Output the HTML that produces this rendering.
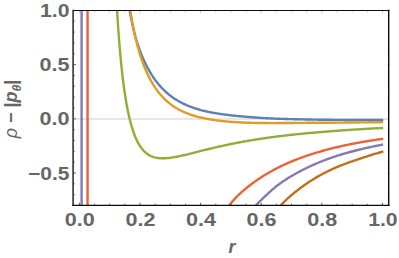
<!DOCTYPE html>
<html lang="en"><head><meta charset="utf-8"><title>rho - |p_theta| vs r</title>
<style>html,body{margin:0;padding:0;background:#fff;font-family:"Liberation Sans",sans-serif;}svg{display:block}</style></head><body>
<svg width="399" height="258" viewBox="0 0 399 258">
<rect width="399" height="258" fill="#fff"/>
<defs><clipPath id="c"><rect x="73.2" y="10.3" width="315.4" height="195.1"/></clipPath></defs>
<line x1="73.2" y1="119" x2="388.6" y2="119" stroke="#cfcfcf" stroke-width="1"/>
<g clip-path="url(#c)" fill="none" stroke-width="2.4" stroke-linejoin="round">
<path d="M128.09 1.76 L128.26 2.75 L128.43 3.73 L128.6 4.72 L128.78 5.7 L128.95 6.68 L129.13 7.67 L129.31 8.65 L129.49 9.64 L129.67 10.62 L129.85 11.6 L130.04 12.59 L130.22 13.57 L130.41 14.55 L130.59 15.54 L130.78 16.52 L130.98 17.5 L131.17 18.48 L131.36 19.46 L131.56 20.44 L131.76 21.43 L131.97 22.41 L132.17 23.38 L132.38 24.36 L132.6 25.34 L132.81 26.32 L133.03 27.3 L133.26 28.27 L133.48 29.25 L133.72 30.22 L133.95 31.19 L134.19 32.17 L134.44 33.14 L134.69 34.11 L134.95 35.08 L135.21 36.04 L135.48 37.01 L135.75 37.97 L136.03 38.93 L136.31 39.89 L136.6 40.85 L136.9 41.81 L137.2 42.77 L137.51 43.72 L137.82 44.67 L138.14 45.62 L138.47 46.57 L138.8 47.51 L139.14 48.46 L139.48 49.4 L139.83 50.34 L140.18 51.28 L140.54 52.21 L140.9 53.15 L141.28 54.08 L141.65 55 L142.03 55.93 L142.42 56.85 L142.82 57.78 L143.22 58.69 L143.62 59.61 L144.03 60.52 L144.45 61.43 L144.88 62.34 L145.31 63.24 L145.75 64.14 L146.19 65.04 L146.64 65.93 L147.1 66.82 L147.57 67.71 L148.04 68.59 L148.52 69.46 L149.01 70.34 L149.51 71.21 L150.01 72.07 L150.52 72.93 L151.04 73.79 L151.57 74.64 L152.1 75.48 L152.65 76.32 L153.2 77.15 L153.76 77.98 L154.33 78.8 L154.91 79.62 L155.5 80.42 L156.1 81.23 L156.71 82.02 L157.33 82.81 L157.96 83.59 L158.59 84.36 L159.24 85.12 L159.89 85.88 L160.56 86.63 L161.24 87.37 L161.92 88.1 L162.62 88.82 L163.32 89.53 L164.04 90.23 L164.76 90.92 L165.49 91.61 L166.24 92.28 L166.99 92.94 L167.75 93.59 L168.52 94.24 L169.3 94.87 L170.09 95.49 L170.89 96.1 L171.7 96.7 L172.51 97.28 L173.34 97.86 L174.17 98.42 L175.01 98.98 L175.85 99.52 L176.71 100.05 L177.57 100.57 L178.44 101.07 L179.31 101.57 L180.2 102.05 L181.08 102.52 L181.98 102.99 L182.88 103.43 L183.79 103.87 L184.7 104.3 L185.61 104.71 L186.53 105.12 L187.46 105.51 L188.39 105.9 L189.32 106.27 L190.26 106.64 L191.2 106.99 L192.15 107.34 L193.09 107.67 L194.04 108 L195 108.32 L195.95 108.62 L196.91 108.93 L197.88 109.22 L198.84 109.5 L199.81 109.78 L200.77 110.04 L201.74 110.3 L202.72 110.55 L203.69 110.8 L204.67 111.03 L205.64 111.26 L206.62 111.48 L207.6 111.7 L208.59 111.9 L209.57 112.1 L210.55 112.3 L211.54 112.49 L212.52 112.67 L213.51 112.85 L214.5 113.02 L215.49 113.19 L216.47 113.35 L217.46 113.51 L218.45 113.67 L219.44 113.82 L220.44 113.97 L221.43 114.11 L222.42 114.25 L223.41 114.39 L224.4 114.52 L225.4 114.66 L226.39 114.78 L227.38 114.91 L228.38 115.03 L229.37 115.15 L230.36 115.27 L231.36 115.38 L232.35 115.49 L233.35 115.6 L234.34 115.71 L235.34 115.81 L236.33 115.91 L237.33 116.01 L238.33 116.11 L239.32 116.2 L240.32 116.29 L241.32 116.39 L242.31 116.47 L243.31 116.56 L244.31 116.65 L245.3 116.73 L246.3 116.81 L247.3 116.89 L248.29 116.97 L249.29 117.05 L250.29 117.13 L251.29 117.21 L252.28 117.28 L253.28 117.36 L254.28 117.43 L255.28 117.5 L256.28 117.57 L257.27 117.64 L258.27 117.71 L259.27 117.78 L260.27 117.84 L261.27 117.91 L262.27 117.97 L263.26 118.03 L264.26 118.09 L265.26 118.15 L266.26 118.21 L267.26 118.26 L268.26 118.31 L269.26 118.37 L270.26 118.42 L271.26 118.46 L272.25 118.51 L273.25 118.55 L274.25 118.6 L275.25 118.64 L276.25 118.68 L277.25 118.72 L278.25 118.75 L279.25 118.79 L280.25 118.82 L281.25 118.86 L282.25 118.89 L283.25 118.92 L284.25 118.95 L285.25 118.98 L286.25 119.01 L287.25 119.04 L288.25 119.07 L289.25 119.09 L290.25 119.12 L291.25 119.14 L292.25 119.17 L293.25 119.19 L294.25 119.22 L295.25 119.24 L296.25 119.26 L297.25 119.29 L298.25 119.31 L299.25 119.33 L300.25 119.35 L301.25 119.37 L302.25 119.39 L303.25 119.41 L304.25 119.43 L305.25 119.45 L306.25 119.47 L307.25 119.49 L308.25 119.51 L309.25 119.53 L310.25 119.55 L311.25 119.57 L312.25 119.58 L313.25 119.6 L314.25 119.62 L315.25 119.63 L316.25 119.65 L317.25 119.66 L318.25 119.68 L319.25 119.69 L320.25 119.71 L321.25 119.72 L322.25 119.73 L323.25 119.75 L324.25 119.76 L325.25 119.77 L326.25 119.78 L327.25 119.79 L328.25 119.8 L329.25 119.81 L330.25 119.82 L331.25 119.83 L332.25 119.84 L333.25 119.85 L334.25 119.86 L335.25 119.86 L336.25 119.87 L337.25 119.88 L338.25 119.89 L339.25 119.89 L340.25 119.9 L341.25 119.91 L342.25 119.91 L343.25 119.92 L344.25 119.93 L345.25 119.93 L346.25 119.94 L347.25 119.94 L348.25 119.95 L349.25 119.95 L350.25 119.96 L351.25 119.96 L352.25 119.96 L353.25 119.97 L354.25 119.97 L355.25 119.98 L356.25 119.98 L357.25 119.98 L358.25 119.99 L359.25 119.99 L360.25 119.99 L361.25 119.99 L362.25 120 L363.25 120 L364.25 120 L365.25 120 L366.25 120 L367.25 120.01 L368.25 120.01 L369.25 120.01 L370.25 120.01 L371.25 120.01 L372.25 120.01 L373.25 120.01 L374.25 120.02 L375.25 120.02 L376.25 120.02 L377.25 120.02 L378.25 120.02 L379.25 120.02 L380.25 120.02 L381.25 120.02 L382.25 120.02 L383.25 120.02" stroke="#5E81B5"/>
<path d="M128.8 0.22 L128.94 1.21 L129.07 2.2 L129.21 3.19 L129.35 4.18 L129.5 5.17 L129.64 6.16 L129.79 7.15 L129.93 8.14 L130.08 9.13 L130.24 10.11 L130.39 11.1 L130.55 12.09 L130.71 13.08 L130.87 14.06 L131.03 15.05 L131.19 16.04 L131.36 17.02 L131.53 18.01 L131.7 18.99 L131.88 19.98 L132.05 20.96 L132.23 21.95 L132.41 22.93 L132.6 23.91 L132.78 24.9 L132.97 25.88 L133.16 26.86 L133.36 27.84 L133.56 28.82 L133.76 29.8 L133.96 30.78 L134.17 31.76 L134.38 32.74 L134.59 33.71 L134.8 34.69 L135.02 35.66 L135.24 36.64 L135.47 37.61 L135.7 38.59 L135.93 39.56 L136.17 40.53 L136.41 41.5 L136.65 42.47 L136.9 43.44 L137.15 44.41 L137.4 45.38 L137.66 46.34 L137.92 47.31 L138.19 48.27 L138.46 49.23 L138.74 50.2 L139.02 51.16 L139.3 52.11 L139.59 53.07 L139.89 54.03 L140.18 54.98 L140.49 55.93 L140.8 56.89 L141.11 57.83 L141.43 58.78 L141.75 59.73 L142.08 60.67 L142.42 61.61 L142.76 62.55 L143.11 63.49 L143.46 64.43 L143.82 65.36 L144.18 66.29 L144.55 67.22 L144.93 68.15 L145.32 69.07 L145.71 69.99 L146.1 70.91 L146.51 71.82 L146.92 72.73 L147.34 73.64 L147.76 74.55 L148.2 75.45 L148.64 76.35 L149.09 77.24 L149.55 78.13 L150.01 79.01 L150.48 79.9 L150.97 80.77 L151.46 81.64 L151.96 82.51 L152.46 83.37 L152.98 84.23 L153.51 85.08 L154.04 85.92 L154.59 86.76 L155.14 87.59 L155.71 88.42 L156.28 89.24 L156.87 90.05 L157.46 90.86 L158.07 91.65 L158.68 92.44 L159.31 93.22 L159.94 94 L160.59 94.76 L161.25 95.51 L161.92 96.26 L162.6 96.99 L163.29 97.72 L163.99 98.43 L164.7 99.14 L165.43 99.83 L166.16 100.51 L166.9 101.18 L167.66 101.84 L168.42 102.49 L169.2 103.12 L169.99 103.75 L170.78 104.36 L171.59 104.95 L172.4 105.54 L173.23 106.11 L174.06 106.67 L174.9 107.21 L175.75 107.74 L176.61 108.26 L177.48 108.76 L178.35 109.26 L179.23 109.74 L180.12 110.2 L181.01 110.65 L181.91 111.09 L182.82 111.52 L183.73 111.94 L184.65 112.34 L185.58 112.73 L186.5 113.11 L187.44 113.48 L188.37 113.83 L189.31 114.18 L190.26 114.51 L191.21 114.83 L192.16 115.14 L193.12 115.45 L194.08 115.74 L195.04 116.02 L196 116.29 L196.97 116.56 L197.94 116.81 L198.91 117.06 L199.88 117.3 L200.86 117.53 L201.83 117.75 L202.81 117.97 L203.79 118.18 L204.77 118.38 L205.76 118.57 L206.74 118.76 L207.72 118.95 L208.71 119.12 L209.7 119.29 L210.69 119.46 L211.67 119.62 L212.66 119.78 L213.65 119.93 L214.64 120.08 L215.64 120.22 L216.63 120.36 L217.62 120.49 L218.61 120.62 L219.61 120.75 L220.6 120.87 L221.6 120.98 L222.59 121.09 L223.59 121.2 L224.59 121.3 L225.58 121.4 L226.58 121.49 L227.58 121.58 L228.57 121.67 L229.57 121.75 L230.57 121.82 L231.57 121.9 L232.57 121.97 L233.57 122.04 L234.57 122.1 L235.57 122.17 L236.57 122.22 L237.56 122.28 L238.56 122.33 L239.56 122.39 L240.56 122.43 L241.56 122.48 L242.56 122.53 L243.56 122.57 L244.56 122.61 L245.56 122.65 L246.56 122.68 L247.56 122.72 L248.56 122.75 L249.57 122.78 L250.57 122.81 L251.57 122.83 L252.57 122.86 L253.57 122.88 L254.57 122.9 L255.57 122.93 L256.57 122.94 L257.57 122.96 L258.57 122.98 L259.57 122.99 L260.57 123.01 L261.57 123.02 L262.57 123.03 L263.57 123.04 L264.57 123.05 L265.57 123.06 L266.57 123.07 L267.57 123.07 L268.57 123.08 L269.57 123.08 L270.57 123.08 L271.57 123.08 L272.57 123.08 L273.57 123.08 L274.57 123.08 L275.57 123.08 L276.57 123.07 L277.57 123.07 L278.57 123.06 L279.57 123.06 L280.58 123.05 L281.58 123.04 L282.58 123.04 L283.58 123.03 L284.58 123.02 L285.58 123.01 L286.58 123 L287.58 122.99 L288.58 122.98 L289.58 122.97 L290.58 122.96 L291.58 122.95 L292.58 122.94 L293.58 122.93 L294.58 122.92 L295.58 122.91 L296.58 122.9 L297.58 122.89 L298.58 122.88 L299.58 122.87 L300.58 122.86 L301.58 122.85 L302.58 122.85 L303.58 122.84 L304.58 122.83 L305.58 122.83 L306.58 122.82 L307.58 122.82 L308.58 122.81 L309.58 122.81 L310.58 122.8 L311.58 122.8 L312.58 122.8 L313.58 122.79 L314.58 122.79 L315.58 122.78 L316.58 122.78 L317.58 122.78 L318.58 122.77 L319.58 122.77 L320.58 122.76 L321.58 122.76 L322.58 122.75 L323.58 122.75 L324.58 122.74 L325.58 122.74 L326.58 122.73 L327.58 122.73 L328.58 122.72 L329.58 122.71 L330.58 122.71 L331.58 122.7 L332.58 122.69 L333.58 122.68 L334.58 122.68 L335.58 122.67 L336.58 122.66 L337.58 122.65 L338.58 122.64 L339.58 122.63 L340.58 122.62 L341.58 122.61 L342.58 122.6 L343.58 122.59 L344.58 122.58 L345.58 122.57 L346.58 122.56 L347.58 122.55 L348.58 122.54 L349.58 122.53 L350.58 122.52 L351.58 122.51 L352.58 122.5 L353.58 122.49 L354.58 122.48 L355.58 122.47 L356.58 122.45 L357.58 122.44 L358.58 122.43 L359.58 122.42 L360.58 122.41 L361.58 122.4 L362.58 122.39 L363.58 122.38 L364.58 122.37 L365.58 122.35 L366.58 122.34 L367.58 122.33 L368.58 122.32 L369.58 122.31 L370.58 122.3 L371.58 122.29 L372.58 122.28 L373.57 122.27 L374.57 122.26 L375.57 122.24 L376.57 122.23 L377.57 122.22 L378.57 122.21 L379.57 122.2 L380.57 122.19 L381.57 122.18 L382.57 122.17 L383.07 122.16" stroke="#E19C24"/>
<path d="M115.6 -17.89 L115.65 -16.89 L115.7 -15.89 L115.74 -14.89 L115.79 -13.89 L115.84 -12.89 L115.89 -11.89 L115.94 -10.89 L115.99 -9.9 L116.04 -8.9 L116.09 -7.9 L116.14 -6.9 L116.2 -5.9 L116.25 -4.9 L116.3 -3.9 L116.35 -2.91 L116.41 -1.91 L116.46 -0.91 L116.51 0.09 L116.57 1.09 L116.62 2.09 L116.68 3.09 L116.73 4.08 L116.79 5.08 L116.85 6.08 L116.91 7.08 L116.96 8.08 L117.02 9.08 L117.08 10.07 L117.14 11.07 L117.2 12.07 L117.26 13.07 L117.32 14.07 L117.38 15.07 L117.44 16.06 L117.51 17.06 L117.57 18.06 L117.63 19.06 L117.7 20.06 L117.76 21.05 L117.82 22.05 L117.89 23.05 L117.96 24.05 L118.02 25.04 L118.09 26.04 L118.16 27.04 L118.23 28.04 L118.3 29.04 L118.37 30.03 L118.44 31.03 L118.51 32.03 L118.58 33.02 L118.65 34.02 L118.73 35.02 L118.8 36.02 L118.88 37.01 L118.95 38.01 L119.03 39.01 L119.1 40.01 L119.18 41 L119.26 42 L119.34 43 L119.42 43.99 L119.5 44.99 L119.58 45.99 L119.67 46.98 L119.75 47.98 L119.83 48.98 L119.92 49.97 L120 50.97 L120.09 51.96 L120.18 52.96 L120.27 53.96 L120.36 54.95 L120.45 55.95 L120.54 56.94 L120.63 57.94 L120.73 58.94 L120.82 59.93 L120.92 60.93 L121.02 61.92 L121.11 62.92 L121.21 63.91 L121.31 64.91 L121.42 65.9 L121.52 66.9 L121.62 67.89 L121.73 68.89 L121.83 69.88 L121.94 70.87 L122.05 71.87 L122.16 72.86 L122.28 73.86 L122.39 74.85 L122.5 75.84 L122.62 76.84 L122.74 77.83 L122.86 78.82 L122.98 79.81 L123.1 80.81 L123.23 81.8 L123.35 82.79 L123.48 83.78 L123.61 84.77 L123.74 85.77 L123.87 86.76 L124.01 87.75 L124.15 88.74 L124.29 89.73 L124.43 90.72 L124.57 91.71 L124.71 92.7 L124.86 93.69 L125.01 94.67 L125.16 95.66 L125.32 96.65 L125.48 97.64 L125.64 98.63 L125.8 99.61 L125.96 100.6 L126.13 101.59 L126.3 102.57 L126.47 103.56 L126.65 104.54 L126.83 105.52 L127.01 106.51 L127.2 107.49 L127.39 108.47 L127.58 109.45 L127.78 110.43 L127.98 111.41 L128.18 112.39 L128.39 113.37 L128.6 114.35 L128.82 115.32 L129.04 116.3 L129.26 117.27 L129.49 118.25 L129.73 119.22 L129.97 120.19 L130.22 121.16 L130.47 122.13 L130.72 123.09 L130.99 124.06 L131.26 125.02 L131.53 125.98 L131.81 126.94 L132.1 127.9 L132.4 128.85 L132.71 129.8 L133.02 130.75 L133.34 131.7 L133.67 132.64 L134.01 133.58 L134.36 134.52 L134.73 135.45 L135.1 136.38 L135.48 137.31 L135.88 138.22 L136.28 139.14 L136.71 140.04 L137.14 140.94 L137.59 141.84 L138.06 142.72 L138.54 143.6 L139.05 144.46 L139.57 145.31 L140.11 146.16 L140.67 146.98 L141.25 147.8 L141.85 148.59 L142.48 149.37 L143.13 150.13 L143.81 150.87 L144.51 151.58 L145.24 152.26 L146 152.91 L146.78 153.54 L147.59 154.12 L148.43 154.67 L149.29 155.19 L150.17 155.66 L151.07 156.09 L151.99 156.48 L152.93 156.83 L153.88 157.14 L154.84 157.41 L155.81 157.64 L156.8 157.83 L157.79 157.98 L158.78 158.11 L159.78 158.2 L160.77 158.26 L161.77 158.29 L162.78 158.3 L163.78 158.29 L164.78 158.26 L165.78 158.2 L166.78 158.13 L167.78 158.05 L168.77 157.95 L169.77 157.83 L170.76 157.7 L171.76 157.57 L172.75 157.42 L173.74 157.26 L174.72 157.09 L175.71 156.92 L176.7 156.73 L177.68 156.54 L178.66 156.34 L179.64 156.14 L180.62 155.93 L181.6 155.72 L182.58 155.5 L183.55 155.27 L184.53 155.05 L185.5 154.82 L186.47 154.58 L187.45 154.35 L188.42 154.11 L189.39 153.87 L190.36 153.62 L191.33 153.38 L192.3 153.14 L193.27 152.89 L194.24 152.65 L195.21 152.4 L196.18 152.15 L197.15 151.91 L198.12 151.66 L199.09 151.42 L200.06 151.17 L201.02 150.93 L201.99 150.68 L202.96 150.44 L203.93 150.2 L204.9 149.96 L205.87 149.72 L206.84 149.48 L207.82 149.24 L208.79 149.01 L209.76 148.77 L210.73 148.54 L211.7 148.31 L212.67 148.07 L213.65 147.85 L214.62 147.62 L215.59 147.39 L216.57 147.17 L217.54 146.94 L218.51 146.72 L219.49 146.5 L220.46 146.28 L221.44 146.07 L222.41 145.85 L223.39 145.64 L224.37 145.43 L225.34 145.22 L226.32 145.01 L227.3 144.8 L228.27 144.59 L229.25 144.39 L230.23 144.19 L231.21 143.99 L232.19 143.79 L233.17 143.59 L234.15 143.4 L235.13 143.2 L236.11 143.01 L237.09 142.82 L238.07 142.63 L239.05 142.45 L240.03 142.26 L241.02 142.08 L242 141.9 L242.98 141.72 L243.96 141.54 L244.95 141.37 L245.93 141.19 L246.92 141.02 L247.9 140.85 L248.88 140.68 L249.87 140.51 L250.85 140.35 L251.84 140.18 L252.83 140.02 L253.81 139.86 L254.8 139.7 L255.79 139.54 L256.77 139.38 L257.76 139.23 L258.75 139.08 L259.73 138.93 L260.72 138.78 L261.71 138.63 L262.7 138.48 L263.69 138.33 L264.68 138.19 L265.66 138.05 L266.65 137.9 L267.64 137.76 L268.63 137.63 L269.62 137.49 L270.61 137.35 L271.6 137.22 L272.59 137.09 L273.58 136.95 L274.57 136.82 L275.56 136.69 L276.56 136.57 L277.55 136.44 L278.54 136.31 L279.53 136.19 L280.52 136.07 L281.51 135.95 L282.51 135.83 L283.5 135.71 L284.49 135.59 L285.48 135.47 L286.48 135.36 L287.47 135.24 L288.46 135.13 L289.45 135.02 L290.45 134.91 L291.44 134.8 L292.43 134.69 L293.43 134.58 L294.42 134.48 L295.42 134.37 L296.41 134.27 L297.4 134.17 L298.4 134.07 L299.39 133.97 L300.39 133.87 L301.38 133.77 L302.38 133.68 L303.37 133.59 L304.37 133.49 L305.36 133.4 L306.36 133.31 L307.35 133.22 L308.35 133.13 L309.35 133.05 L310.34 132.96 L311.34 132.87 L312.33 132.79 L313.33 132.7 L314.32 132.62 L315.32 132.54 L316.32 132.45 L317.31 132.37 L318.31 132.28 L319.3 132.2 L320.3 132.12 L321.3 132.04 L322.29 131.95 L323.29 131.87 L324.29 131.79 L325.28 131.71 L326.28 131.63 L327.27 131.55 L328.27 131.46 L329.27 131.38 L330.26 131.3 L331.26 131.22 L332.26 131.15 L333.25 131.07 L334.25 130.99 L335.25 130.91 L336.24 130.84 L337.24 130.76 L338.24 130.69 L339.23 130.61 L340.23 130.54 L341.23 130.47 L342.22 130.4 L343.22 130.32 L344.22 130.25 L345.22 130.18 L346.21 130.11 L347.21 130.05 L348.21 129.98 L349.2 129.91 L350.2 129.84 L351.2 129.78 L352.2 129.71 L353.19 129.65 L354.19 129.58 L355.19 129.52 L356.19 129.46 L357.19 129.39 L358.18 129.33 L359.18 129.27 L360.18 129.21 L361.18 129.15 L362.17 129.09 L363.17 129.03 L364.17 128.97 L365.17 128.91 L366.17 128.85 L367.16 128.79 L368.16 128.73 L369.16 128.68 L370.16 128.62 L371.16 128.56 L372.16 128.51 L373.15 128.45 L374.15 128.4 L375.15 128.35 L376.15 128.29 L377.15 128.24 L378.15 128.19 L379.14 128.13 L380.14 128.08 L381.14 128.03 L382.14 127.98 L383.14 127.93" stroke="#8FB032"/>
<path d="M228.11 207.15 L228.68 206.34 L229.27 205.53 L229.86 204.72 L230.46 203.93 L231.07 203.14 L231.7 202.37 L232.33 201.6 L232.97 200.84 L233.62 200.09 L234.29 199.35 L234.96 198.61 L235.64 197.89 L236.33 197.17 L237.02 196.46 L237.72 195.76 L238.43 195.06 L239.15 194.38 L239.88 193.7 L240.6 193.03 L241.34 192.36 L242.08 191.71 L242.83 191.05 L243.58 190.41 L244.34 189.77 L245.1 189.13 L245.86 188.5 L246.63 187.88 L247.4 187.26 L248.18 186.65 L248.96 186.04 L249.74 185.43 L250.53 184.83 L251.32 184.23 L252.12 183.64 L252.91 183.05 L253.71 182.47 L254.52 181.89 L255.32 181.31 L256.14 180.74 L256.95 180.17 L257.77 179.61 L258.59 179.05 L259.41 178.49 L260.24 177.94 L261.07 177.4 L261.9 176.86 L262.74 176.32 L263.58 175.79 L264.43 175.26 L265.28 174.74 L266.13 174.23 L266.98 173.72 L267.84 173.21 L268.7 172.71 L269.56 172.22 L270.43 171.73 L271.3 171.24 L272.17 170.76 L273.05 170.28 L273.93 169.81 L274.81 169.34 L275.69 168.88 L276.58 168.43 L277.47 167.97 L278.36 167.52 L279.25 167.08 L280.14 166.64 L281.04 166.2 L281.94 165.77 L282.84 165.35 L283.75 164.93 L284.65 164.51 L285.56 164.1 L286.47 163.69 L287.39 163.28 L288.3 162.88 L289.22 162.49 L290.13 162.09 L291.05 161.71 L291.98 161.32 L292.9 160.94 L293.82 160.57 L294.75 160.2 L295.68 159.83 L296.61 159.46 L297.54 159.11 L298.47 158.75 L299.41 158.4 L300.35 158.05 L301.28 157.71 L302.22 157.37 L303.16 157.03 L304.1 156.7 L305.05 156.37 L305.99 156.04 L306.94 155.72 L307.88 155.4 L308.83 155.08 L309.78 154.77 L310.73 154.46 L311.68 154.16 L312.63 153.85 L313.58 153.55 L314.54 153.26 L315.49 152.96 L316.45 152.67 L317.4 152.38 L318.36 152.1 L319.32 151.82 L320.28 151.54 L321.24 151.26 L322.2 150.99 L323.16 150.72 L324.13 150.45 L325.09 150.19 L326.05 149.93 L327.02 149.67 L327.99 149.41 L328.95 149.16 L329.92 148.91 L330.89 148.66 L331.86 148.42 L332.82 148.17 L333.79 147.93 L334.77 147.7 L335.74 147.46 L336.71 147.23 L337.68 147 L338.65 146.77 L339.63 146.55 L340.6 146.33 L341.58 146.11 L342.55 145.89 L343.53 145.68 L344.51 145.47 L345.48 145.26 L346.46 145.05 L347.44 144.84 L348.42 144.64 L349.4 144.44 L350.38 144.25 L351.36 144.05 L352.34 143.86 L353.32 143.67 L354.3 143.48 L355.28 143.29 L356.27 143.11 L357.25 142.92 L358.23 142.74 L359.21 142.57 L360.2 142.39 L361.18 142.22 L362.17 142.04 L363.15 141.87 L364.14 141.71 L365.12 141.54 L366.11 141.37 L367.09 141.21 L368.08 141.05 L369.07 140.89 L370.06 140.73 L371.04 140.58 L372.03 140.42 L373.02 140.27 L374.01 140.12 L374.99 139.97 L375.98 139.82 L376.97 139.68 L377.96 139.53 L378.95 139.39 L379.94 139.25 L380.93 139.11 L381.92 138.97 L382.91 138.84 L383.16 138.8" stroke="#EB6235"/>
<path d="M254.67 206.69 L255.35 205.95 L256.02 205.23 L256.71 204.5 L257.4 203.78 L258.09 203.07 L258.79 202.36 L259.49 201.66 L260.2 200.95 L260.91 200.26 L261.62 199.56 L262.33 198.87 L263.05 198.18 L263.77 197.5 L264.49 196.81 L265.21 196.13 L265.94 195.45 L266.67 194.77 L267.39 194.1 L268.13 193.42 L268.86 192.75 L269.6 192.08 L270.34 191.42 L271.08 190.76 L271.83 190.1 L272.58 189.45 L273.34 188.81 L274.1 188.17 L274.86 187.53 L275.64 186.9 L276.41 186.28 L277.2 185.67 L277.98 185.06 L278.78 184.46 L279.58 183.87 L280.38 183.28 L281.19 182.7 L282.01 182.13 L282.83 181.57 L283.65 181.01 L284.48 180.45 L285.31 179.91 L286.15 179.37 L286.98 178.83 L287.83 178.3 L288.67 177.78 L289.52 177.26 L290.37 176.74 L291.23 176.23 L292.08 175.73 L292.94 175.22 L293.81 174.73 L294.67 174.24 L295.54 173.75 L296.41 173.26 L297.28 172.78 L298.15 172.31 L299.03 171.84 L299.91 171.37 L300.79 170.91 L301.67 170.45 L302.56 169.99 L303.44 169.54 L304.33 169.1 L305.22 168.65 L306.12 168.22 L307.01 167.78 L307.91 167.35 L308.81 166.93 L309.71 166.5 L310.62 166.08 L311.52 165.67 L312.43 165.26 L313.34 164.85 L314.25 164.45 L315.16 164.05 L316.08 163.66 L316.99 163.26 L317.91 162.88 L318.83 162.49 L319.75 162.11 L320.68 161.74 L321.6 161.36 L322.53 161 L323.46 160.63 L324.39 160.27 L325.32 159.92 L326.25 159.56 L327.19 159.22 L328.12 158.87 L329.06 158.53 L330 158.2 L330.94 157.87 L331.88 157.54 L332.83 157.22 L333.77 156.9 L334.72 156.58 L335.67 156.27 L336.62 155.97 L337.57 155.66 L338.52 155.36 L339.47 155.07 L340.43 154.77 L341.38 154.48 L342.34 154.2 L343.3 153.91 L344.25 153.63 L345.21 153.36 L346.17 153.08 L347.13 152.81 L348.09 152.54 L349.06 152.28 L350.02 152.01 L350.98 151.75 L351.95 151.49 L352.91 151.24 L353.88 150.99 L354.85 150.74 L355.81 150.49 L356.78 150.24 L357.75 150 L358.72 149.76 L359.69 149.53 L360.66 149.29 L361.63 149.06 L362.6 148.83 L363.58 148.6 L364.55 148.38 L365.52 148.15 L366.5 147.93 L367.47 147.71 L368.45 147.5 L369.42 147.28 L370.4 147.07 L371.38 146.86 L372.35 146.66 L373.33 146.45 L374.31 146.25 L375.29 146.05 L376.27 145.85 L377.25 145.65 L378.23 145.46 L379.21 145.27 L380.19 145.08 L381.17 144.89 L382.15 144.7 L383.13 144.52" stroke="#8778B3"/>
<path d="M279.54 206.74 L280.21 206 L280.89 205.27 L281.57 204.54 L282.26 203.82 L282.95 203.1 L283.65 202.39 L284.35 201.68 L285.06 200.98 L285.78 200.29 L286.5 199.6 L287.22 198.92 L287.95 198.24 L288.69 197.57 L289.44 196.91 L290.18 196.25 L290.94 195.6 L291.7 194.95 L292.46 194.31 L293.23 193.68 L294 193.05 L294.77 192.42 L295.55 191.8 L296.33 191.19 L297.11 190.58 L297.9 189.97 L298.69 189.36 L299.48 188.76 L300.28 188.16 L301.08 187.57 L301.88 186.98 L302.68 186.39 L303.48 185.81 L304.29 185.23 L305.1 184.66 L305.92 184.08 L306.74 183.52 L307.56 182.96 L308.38 182.4 L309.21 181.85 L310.04 181.31 L310.88 180.77 L311.72 180.23 L312.56 179.7 L313.41 179.18 L314.26 178.66 L315.11 178.15 L315.97 177.64 L316.83 177.14 L317.69 176.65 L318.55 176.16 L319.42 175.67 L320.29 175.19 L321.17 174.71 L322.04 174.24 L322.92 173.78 L323.8 173.31 L324.69 172.86 L325.57 172.4 L326.46 171.95 L327.35 171.51 L328.25 171.07 L329.14 170.64 L330.04 170.2 L330.94 169.78 L331.84 169.36 L332.75 168.94 L333.65 168.53 L334.56 168.12 L335.47 167.72 L336.39 167.33 L337.3 166.94 L338.22 166.55 L339.14 166.17 L340.07 165.8 L340.99 165.43 L341.92 165.06 L342.85 164.7 L343.78 164.35 L344.71 164 L345.64 163.65 L346.58 163.31 L347.51 162.97 L348.45 162.63 L349.39 162.3 L350.33 161.97 L351.27 161.64 L352.21 161.32 L353.15 160.99 L354.09 160.67 L355.04 160.35 L355.98 160.03 L356.92 159.71 L357.87 159.39 L358.81 159.07 L359.76 158.76 L360.7 158.44 L361.65 158.13 L362.6 157.82 L363.54 157.51 L364.49 157.2 L365.44 156.89 L366.39 156.58 L367.34 156.27 L368.29 155.97 L369.24 155.66 L370.19 155.36 L371.14 155.06 L372.09 154.76 L373.05 154.47 L374 154.18 L374.96 153.89 L375.91 153.6 L376.87 153.32 L377.83 153.04 L378.79 152.76 L379.75 152.49 L380.71 152.22 L381.68 151.96 L382.64 151.7 L383.37 151.5" stroke="#C56E1A"/>
<line x1="87.55" y1="10.3" x2="87.55" y2="205.4" stroke="#EB6235" stroke-width="2.4"/>
<line x1="81.6" y1="10.3" x2="81.6" y2="205.4" stroke="#8778B3" stroke-width="2.4"/>
</g>
<path d="M73.2 205.52h1.6M73.2 194.68h1.6M73.2 183.84h1.6M73.2 173h2.7M73.2 162.16h1.6M73.2 151.32h1.6M73.2 140.48h1.6M73.2 129.64h1.6M73.2 118.8h2.7M73.2 107.96h1.6M73.2 97.12h1.6M73.2 86.28h1.6M73.2 75.44h1.6M73.2 64.6h2.7M73.2 53.76h1.6M73.2 42.92h1.6M73.2 32.08h1.6M73.2 21.24h1.6M73.2 10.4h2.7M79.4 205.4v-2.7M94.55 205.4v-1.6M109.71 205.4v-1.6M124.86 205.4v-1.6M140.01 205.4v-2.7M155.17 205.4v-1.6M170.32 205.4v-1.6M185.47 205.4v-1.6M200.62 205.4v-2.7M215.78 205.4v-1.6M230.93 205.4v-1.6M246.08 205.4v-1.6M261.24 205.4v-2.7M276.39 205.4v-1.6M291.54 205.4v-1.6M306.7 205.4v-1.6M321.85 205.4v-2.7M337 205.4v-1.6M352.15 205.4v-1.6M367.31 205.4v-1.6M382.46 205.4v-2.7" stroke="#444444" stroke-width="0.85" fill="none"/>
<path d="M79.4 10.3v3.3M94.55 10.3v2.2M109.71 10.3v2.2M124.86 10.3v2.2M140.01 10.3v3.3M155.17 10.3v2.2M170.32 10.3v2.2M185.47 10.3v2.2M200.62 10.3v3.3M215.78 10.3v2.2M230.93 10.3v2.2M246.08 10.3v2.2M261.24 10.3v3.3M276.39 10.3v2.2M291.54 10.3v2.2M306.7 10.3v2.2M321.85 10.3v3.3M337 10.3v2.2M352.15 10.3v2.2M367.31 10.3v2.2M382.46 10.3v3.3" stroke="#000" stroke-opacity="0.28" stroke-width="0.7" fill="none"/>
<path d="M388.6 205.52h-2.2M388.6 194.68h-2.2M388.6 183.84h-2.2M388.6 173h-3.3M388.6 162.16h-2.2M388.6 151.32h-2.2M388.6 140.48h-2.2M388.6 129.64h-2.2M388.6 118.8h-3.3M388.6 107.96h-2.2M388.6 97.12h-2.2M388.6 86.28h-2.2M388.6 75.44h-2.2M388.6 64.6h-3.3M388.6 53.76h-2.2M388.6 42.92h-2.2M388.6 32.08h-2.2M388.6 21.24h-2.2M388.6 10.4h-3.3" stroke="#000" stroke-opacity="0.1" stroke-width="0.7" fill="none"/>
<path d="M73.1 9.8V206" stroke="#454545" stroke-width="1.75" fill="none"/>
<path d="M72.45 205.4H389.45" stroke="#0a0a0a" stroke-width="1.3" fill="none"/>
<path d="M73.8 10.55H389.4" stroke="#0a0a0a" stroke-width="1.1" fill="none"/>
<path d="M388.7 9.85V206" stroke="#0a0a0a" stroke-width="1.4" fill="none"/>
<g fill="#666666" font-family="'Liberation Sans', sans-serif" font-weight="bold" font-size="18">
<text x="69.5" y="17" text-anchor="end" textLength="29.5" lengthAdjust="spacingAndGlyphs">1.0</text>
<text x="69.5" y="71.2" text-anchor="end" textLength="30" lengthAdjust="spacingAndGlyphs">0.5</text>
<text x="69.5" y="125.4" text-anchor="end" textLength="30" lengthAdjust="spacingAndGlyphs">0.0</text>
<text x="69.5" y="179.6" text-anchor="end" textLength="41.5" lengthAdjust="spacingAndGlyphs">−0.5</text>
<text x="79.8" y="226.4" text-anchor="middle" textLength="30" lengthAdjust="spacingAndGlyphs">0.0</text>
<text x="140.4" y="226.4" text-anchor="middle" textLength="30" lengthAdjust="spacingAndGlyphs">0.2</text>
<text x="201" y="226.4" text-anchor="middle" textLength="30" lengthAdjust="spacingAndGlyphs">0.4</text>
<text x="261.6" y="226.4" text-anchor="middle" textLength="30" lengthAdjust="spacingAndGlyphs">0.6</text>
<text x="322.2" y="226.4" text-anchor="middle" textLength="30" lengthAdjust="spacingAndGlyphs">0.8</text>
<text x="382.9" y="226.4" text-anchor="middle" textLength="29.5" lengthAdjust="spacingAndGlyphs">1.0</text>
<text x="232" y="252.9" text-anchor="middle" font-style="italic">r</text>
<text transform="translate(17.3,109) rotate(-90)" text-anchor="middle"><tspan font-style="italic" font-weight="normal">ρ</tspan> − |<tspan font-style="italic">p</tspan><tspan font-style="italic" font-size="12" dy="4">θ</tspan><tspan dy="-4">|</tspan></text>
</g>
</svg></body></html>
